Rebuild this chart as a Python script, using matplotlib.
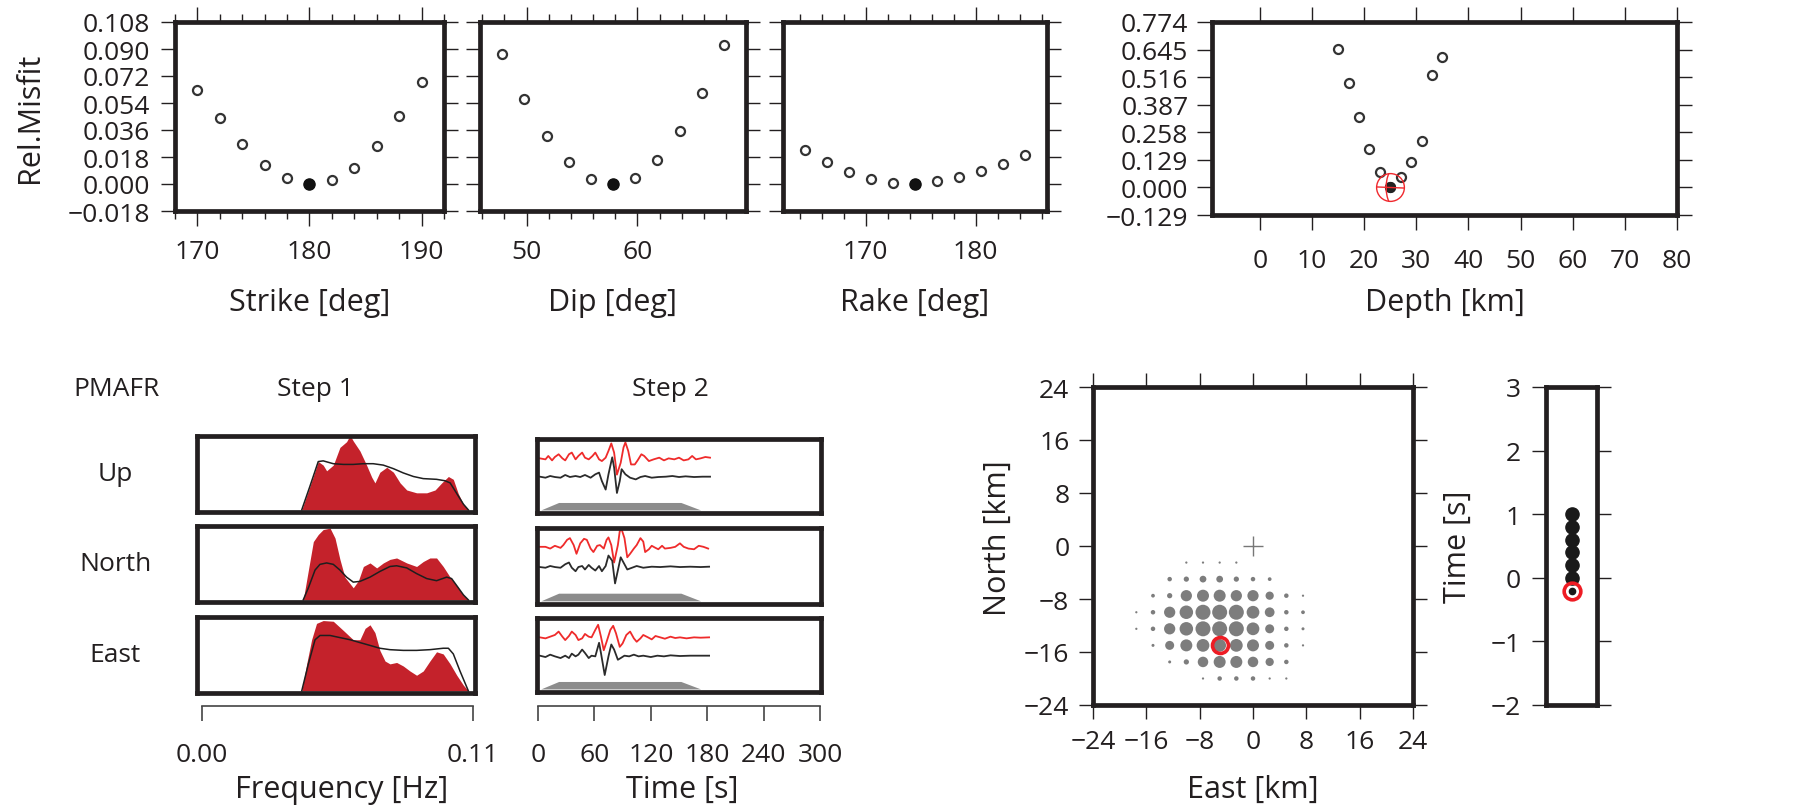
import matplotlib
matplotlib.use('Agg')
import matplotlib.pyplot as plt
import numpy as np
from matplotlib.path import Path

plt.rcParams['font.family'] = ['Open Sans', 'DejaVu Sans']
INK = '#231f20'
plt.rcParams['text.color'] = INK
plt.rcParams['xtick.color'] = INK
plt.rcParams['ytick.color'] = INK

# ---- grid search, top row ----
strike = [170, 172, 174, 176, 178, 180, 182, 184, 186, 188, 190]
strike_misfit = [0.063, 0.0438, 0.0264, 0.0129, 0.0043, 0.0, 0.0025, 0.0106, 0.0255, 0.0452, 0.068]
dip = [47.8, 49.8, 51.8, 53.8, 55.8, 57.8, 59.8, 61.8, 63.8, 65.8, 67.8]
dip_misfit = [0.0867, 0.0567, 0.0323, 0.0147, 0.0036, 0.0, 0.0043, 0.0163, 0.0355, 0.061, 0.0928]
rake = [164.5, 166.5, 168.5, 170.5, 172.5, 174.5, 176.5, 178.5, 180.5, 182.5, 184.5]
rake_misfit = [0.023, 0.0145, 0.0079, 0.0032, 0.0009, 0.0, 0.0018, 0.0045, 0.0084, 0.0135, 0.0194]
depth = [15, 17, 19, 21, 23, 25, 27, 29, 31, 33, 35]
depth_misfit = [0.649, 0.489, 0.331, 0.182, 0.070, 0.0, 0.047, 0.121, 0.217, 0.528, 0.608]

misfit_ticks = [-0.018, 0.0, 0.018, 0.036, 0.054, 0.072, 0.090, 0.108]
depth_ticks = [-0.129, 0.0, 0.129, 0.258, 0.387, 0.516, 0.645, 0.774]

# ---- step 1: amplitude spectra (red = data, black = synthetics) ----
comp_names = ['Up', 'North', 'East']
f_up = [0.0405, 0.0438, 0.0472, 0.0492, 0.0506, 0.0533, 0.0560, 0.0587, 0.0601, 0.0614, 0.0641, 0.0668,
        0.0689, 0.0702, 0.0722, 0.0750, 0.0777, 0.0804, 0.0831, 0.0871, 0.0912, 0.0946, 0.0973, 0.1000,
        0.1020, 0.1040, 0.1061, 0.1081]
amp_up = [0, 0.33, 0.68, 0.63, 0.55, 0.63, 0.88, 0.96, 1.05, 0.97, 0.83, 0.63,
          0.46, 0.38, 0.53, 0.60, 0.53, 0.38, 0.28, 0.24, 0.24, 0.28, 0.38, 0.47,
          0.43, 0.23, 0.08, 0]
fs_up = [0.0405, 0.0438, 0.0472, 0.0492, 0.0533, 0.0574, 0.0614, 0.0655, 0.0695, 0.0736, 0.0777,
         0.0817, 0.0858, 0.0898, 0.0952, 0.0986, 0.1007, 0.1034, 0.1061, 0.1081]
syn_up = [0, 0.33, 0.68, 0.69, 0.65, 0.64, 0.64, 0.65, 0.65, 0.63, 0.58,
          0.52, 0.47, 0.44, 0.43, 0.41, 0.38, 0.23, 0.08, 0]

f_north = [0.0411, 0.0432, 0.0452, 0.0472, 0.0492, 0.0520, 0.0540, 0.0560, 0.0580, 0.0614, 0.0635,
           0.0655, 0.0682, 0.0709, 0.0736, 0.0763, 0.0790, 0.0831, 0.0871, 0.0898, 0.0925, 0.0952,
           0.0979, 0.1007, 0.1034, 0.1061, 0.1081]
amp_north = [0, 0.42, 0.82, 0.92, 0.99, 1.01, 0.87, 0.57, 0.32, 0.17, 0.27,
             0.47, 0.52, 0.45, 0.52, 0.57, 0.59, 0.52, 0.47, 0.54, 0.59, 0.59,
             0.47, 0.32, 0.20, 0.07, 0]
fs_north = [0.0411, 0.0432, 0.0459, 0.0479, 0.0506, 0.0533, 0.0560, 0.0587, 0.0614, 0.0641, 0.0682,
            0.0722, 0.0763, 0.0790, 0.0831, 0.0871, 0.0912, 0.0952, 0.0993, 0.1013, 0.1034, 0.1061, 0.1081]
syn_north = [0, 0.17, 0.42, 0.50, 0.52, 0.50, 0.42, 0.32, 0.25, 0.26, 0.32,
             0.40, 0.47, 0.48, 0.45, 0.37, 0.30, 0.27, 0.32, 0.30, 0.20, 0.07, 0]

f_east = [0.0405, 0.0425, 0.0445, 0.0465, 0.0492, 0.0533, 0.0574, 0.0614, 0.0641, 0.0662, 0.0682,
          0.0702, 0.0722, 0.0743, 0.0763, 0.0790, 0.0817, 0.0844, 0.0871, 0.0898, 0.0925, 0.0952,
          0.0979, 0.1007, 0.1034, 0.1061, 0.1081]
amp_east = [0, 0.38, 0.72, 0.95, 0.99, 0.98, 0.85, 0.72, 0.72, 0.88, 0.93,
            0.82, 0.57, 0.42, 0.38, 0.40, 0.35, 0.28, 0.22, 0.28, 0.42, 0.55,
            0.52, 0.38, 0.22, 0.08, 0]
fs_east = [0.0405, 0.0432, 0.0459, 0.0479, 0.0520, 0.0560, 0.0601, 0.0641, 0.0682, 0.0722, 0.0763,
           0.0817, 0.0871, 0.0925, 0.0979, 0.1000, 0.1020, 0.1047, 0.1081]
syn_east = [0, 0.38, 0.72, 0.78, 0.78, 0.75, 0.72, 0.68, 0.64, 0.60, 0.58,
            0.57, 0.57, 0.58, 0.60, 0.60, 0.52, 0.28, 0]

# ---- step 2: waveforms (red = data, black = synthetics), amplitude in arbitrary units ----
t_red_up = [2, 8, 11, 15, 18, 22, 26, 29, 33, 36, 40, 43, 47, 50, 54, 58, 61, 65, 68, 72, 75, 78, 81, 84,
            88, 91, 93, 96, 99, 103, 106, 110, 113, 118, 123, 129, 134, 139, 145, 150, 155, 160, 164,
            168, 173, 178, 183]
red_up = [0, -3, 7, -6, 4, 12, 0, -6, 12, 17, -3, 7, 17, 2, -3, 7, 17, -3, -8, 2, 22, 44, 17, -48,
          -13, 32, 47, 22, -18, -18, -6, 12, 7, -8, -3, 2, -6, 0, -3, 2, -6, -3, 7, -3, 0, 4, 2]
t_blk_up = [2, 8, 13, 18, 24, 29, 34, 40, 45, 50, 56, 61, 65, 68, 72, 75, 79, 81, 84, 87, 89, 93, 98,
            104, 109, 114, 121, 128, 136, 143, 150, 157, 166, 175, 183]
blk_up = [0, -3, 2, -1, -3, 5, -1, 2, -1, 5, -3, 7, 12, -13, -38, 7, 57, 27, -48, -13, 22, 7, -3,
          -8, -1, 2, -3, -1, 0, 2, -1, 1, -1, 0, 0]

t_red_north = [2, 8, 13, 18, 24, 27, 31, 34, 38, 41, 45, 49, 52, 56, 59, 63, 66, 70, 73, 75, 78, 81,
               85, 87, 89, 92, 95, 98, 102, 105, 109, 112, 114, 118, 121, 125, 128, 132, 135, 141,
               146, 151, 155, 160, 166, 171, 176, 181]
red_north = [3, 3, -2, 6, 0, 8, 23, 28, 8, -17, 13, 26, 23, -2, -12, 6, 8, -2, 23, 30, 8, -42,
             8, 48, 53, 28, -27, -17, -2, 8, 28, 18, -12, -4, 6, 0, -4, 6, -2, 0,
             3, 13, 3, -2, -4, 6, 3, -2]
t_blk_north = [2, 8, 13, 18, 24, 29, 33, 36, 40, 43, 47, 50, 54, 57, 61, 65, 68, 72, 75, 79, 82, 86,
               88, 92, 95, 100, 105, 112, 121, 130, 141, 151, 162, 173, 182]
blk_north = [-1, -3, 2, -1, -3, 7, 12, -3, -13, -1, 2, -8, 5, -3, -11, 2, -13, 2, 32, 17, -48, 2,
             27, 7, -8, -3, 2, -3, 0, -1, 1, -1, 0, -1, 0]

t_red_east = [2, 8, 13, 18, 22, 26, 29, 33, 36, 40, 43, 47, 50, 54, 57, 61, 64, 67, 70, 73, 77, 80,
              83, 87, 90, 94, 98, 102, 105, 109, 112, 117, 121, 125, 130, 135, 141, 146, 151, 158,
              166, 173, 182]
red_east = [0, -3, 2, 7, 17, 2, -8, 4, 17, 7, -8, -3, 10, 2, 0, 22, 37, 2, -38, -13, 22, 34,
            12, -28, -18, 7, 17, -3, -13, -3, 7, 0, -6, 4, 0, -4, 2, -2, 0, -3, 0, -1, 0]
t_blk_east = [2, 8, 13, 18, 24, 29, 33, 36, 40, 43, 47, 50, 54, 57, 61, 65, 67, 71, 75, 78, 81, 85,
              88, 92, 97, 102, 107, 112, 120, 127, 134, 141, 151, 162, 173, 182]
blk_east = [0, -4, 3, -2, -7, 0, -7, 6, -2, 3, 18, 8, -7, 0, -2, 38, 8, -57, -2, 33, 18, -12,
            -7, 0, -2, 3, -2, 0, -4, 0, -2, 1, -1, 0, 0, 0]

taper_t = [3, 22, 152, 173]
taper_h = [0, 1, 1, 0]

# ---- centroid grid search (bottom right) ----
grid_east = [-17.5, -15, -12.5, -10, -7.5, -5, -2.5, 0, 2.5, 5, 7.5]
grid_north = [-2.5, -5, -7.5, -10, -12.5, -15, -17.5, -20]
grid_weight = [
    [0, 0, 0, 0.15, 0.15, 0.15, 0.15, 0, 0, 0, 0],
    [0, 0, 0.3, 0.35, 0.45, 0.45, 0.35, 0.3, 0.25, 0, 0],
    [0, 0.25, 0.35, 0.75, 0.8, 0.8, 0.75, 0.75, 0.55, 0.3, 0.15],
    [0.15, 0.3, 0.75, 0.9, 1.0, 1.0, 1.0, 0.85, 0.65, 0.3, 0.25],
    [0.15, 0.3, 0.75, 0.9, 1.0, 1.0, 1.0, 0.85, 0.6, 0.3, 0.2],
    [0, 0.2, 0.6, 0.8, 0.85, 0.85, 0.85, 0.8, 0.6, 0.3, 0.15],
    [0, 0, 0.2, 0.35, 0.7, 0.8, 0.8, 0.7, 0.55, 0.3, 0],
    [0, 0, 0, 0, 0.15, 0.3, 0.3, 0.3, 0.15, 0.15, 0],
]
best_east, best_north = -5, -15
time_shift = [1.0, 0.8, 0.6, 0.4, 0.2, 0.0]
best_shift = -0.2

W, H = 1795, 812
fig = plt.figure(figsize=(W / 100, H / 100), dpi=100)


def px_axes(l, t, r, b):
    return fig.add_axes([l / W, 1 - b / H, (r - l) / W, (b - t) / H])


def px_text(x, y, s, size=20, **kw):
    fig.text(x / W, 1 - y / H, s, size=size, ha='center', va='center', **kw)


def heavy_frame(ax, lw=3.4):
    for sp in ax.spines.values():
        sp.set_linewidth(lw)
        sp.set_color(INK)


def lab(v, nd):
    return f'{v:.{nd}f}'.replace('-', '\u2212')


TICK = 19
LABEL = 22

# top row misfit panels
panels = [
    (175, 444, strike, strike_misfit, (168, 192), [170, 180, 190], range(168, 193, 2), 'Strike [deg]'),
    (480, 746, dip, dip_misfit, (45.8, 69.8), [50, 60], range(46, 70, 2), 'Dip [deg]'),
    (783, 1047, rake, rake_misfit, (162.5, 186.5), [170, 180], range(164, 187, 2), 'Rake [deg]'),
]
for i, (l, r, x, y, xl, major, minor, name) in enumerate(panels):
    ax = px_axes(l, 23, r, 212)
    heavy_frame(ax)
    ax.plot(x, y, 'o', ms=6.5, mfc='white', mec='#333333', mew=1.6, ls='none')
    b = int(np.argmin(y))
    ax.plot(x[b], y[b], 'o', ms=8, color='#111111')
    ax.set_xlim(*xl)
    ax.set_ylim(-0.018, 0.108)
    ax.set_xticks(major)
    ax.set_xticks(list(minor), minor=True)
    ax.set_xticklabels([str(m) for m in major])
    ax.set_yticks(misfit_ticks)
    ax.set_yticklabels([lab(v, 3) for v in misfit_ticks] if i == 0 else [])
    ax.tick_params(which='both', direction='out', width=1, top=True, right=True, labelsize=TICK)
    ax.tick_params(which='major', length=11, pad=9)
    ax.tick_params(which='minor', length=6)
    ax.tick_params(axis='y', length=10, pad=8)
    px_text((l + r) / 2, 303, name, size=LABEL)
px_text(30, 118, 'Rel.Misfit', size=LABEL, rotation=90)

# depth panel
ax = px_axes(1212, 23, 1677, 216)
heavy_frame(ax)
ax.plot(depth, depth_misfit, 'o', ms=6.5, mfc='white', mec='#333333', mew=1.6, ls='none')
b = int(np.argmin(depth_misfit))
ax.plot(depth[b], depth_misfit[b], 'o', ms=7, color='#222222')
ball = Path([(-0.12, 1), (-0.38, 0.45), (-0.38, -0.45), (-0.12, -1), (-1, 0.04), (1, -0.04)],
            [Path.MOVETO, Path.CURVE4, Path.CURVE4, Path.CURVE4, Path.MOVETO, Path.LINETO])
ax.plot(depth[b], depth_misfit[b], marker='o', ms=20, mfc='none', mec='#f0282d', mew=1, ls='none')
ax.plot(depth[b], depth_misfit[b], marker=ball, ms=20, mfc='none', mec='#f0282d', mew=1, ls='none')
ax.set_xlim(-9.2, 80)
ax.set_ylim(-0.129, 0.774)
ax.set_xticks([0, 10, 20, 30, 40, 50, 60, 70, 80])
ax.set_yticks(depth_ticks)
ax.set_yticklabels([lab(v, 3) for v in depth_ticks])
ax.tick_params(direction='out', width=1, length=11, top=True, right=True, labelsize=TICK, pad=6)
ax.tick_params(axis='x', pad=13)
px_text(1445, 303, 'Depth [km]', size=LABEL)

# bottom left: spectra and waveforms
spec = [(f_up, amp_up, fs_up, syn_up), (f_north, amp_north, fs_north, syn_north),
        (f_east, amp_east, fs_east, syn_east)]
wave = [(t_red_up, red_up, t_blk_up, blk_up), (t_red_north, red_north, t_blk_north, blk_north),
        (t_red_east, red_east, t_blk_east, blk_east)]
spec_rows = [(437, 513), (527, 603), (618, 694)]
wave_rows = [(440, 514), (529, 605), (619, 693)]
for k in range(3):
    t0, b0 = spec_rows[k]
    ax = px_axes(197, t0, 475, b0)
    heavy_frame(ax)
    f, a, fs, s = spec[k]
    ax.fill_between(f, 0, a, color='#c4222b', lw=0)
    ax.plot(fs, s, color='#1e1e1e', lw=1.1)
    ax.set_xlim(-0.002, 0.1108)
    ax.set_ylim(-0.03, 1.04)
    ax.set_xticks([])
    ax.set_yticks([])
    px_text(115, (t0 + b0) / 2, comp_names[k], size=TICK)

    t0, b0 = wave_rows[k]
    ax = px_axes(537, t0, 821, b0)
    heavy_frame(ax)
    tr, ar, tb, ab = wave[k]
    ax.fill_between(taper_t, 0, np.array(taper_h) * 0.11, color='#8c8c8c', lw=0)
    ax.plot(tr, 0.76 + np.array(ar) / 200, color='#ef2b2b', lw=1.3, solid_joinstyle='round')
    ax.plot(tb, 0.49 + np.array(ab) / 200, color='#2b2b2b', lw=1.3, solid_joinstyle='round')
    ax.set_xlim(-1, 301)
    ax.set_ylim(-0.045, 1.045)
    ax.set_xticks([])
    ax.set_yticks([])

px_text(117, 390, 'PMAFR', size=TICK)
px_text(315, 390, 'Step 1', size=TICK)
px_text(670, 390, 'Step 2', size=TICK)


def bare_axis(l, r, y, lim, ticks, labels):
    ax = px_axes(l, y - 20, r, y)
    for name, sp in ax.spines.items():
        sp.set_visible(name == 'bottom')
    ax.spines['bottom'].set_linewidth(1.2)
    ax.spines['bottom'].set_color('#444444')
    ax.patch.set_visible(False)
    ax.set_xlim(*lim)
    ax.set_xticks(ticks)
    ax.set_xticklabels(labels)
    ax.set_yticks([])
    ax.tick_params(axis='x', direction='out', length=11, width=1.2, color='#444444',
                   labelsize=TICK, pad=15)
    return ax


bare_axis(202, 473, 707, (0, 0.11), [0, 0.11], ['0.00', '0.11'])
bare_axis(538, 820, 707, (0, 300), [0, 60, 120, 180, 240, 300], ['0', '60', '120', '180', '240', '300'])
px_text(342, 790, 'Frequency [Hz]', size=LABEL)
px_text(682, 790, 'Time [s]', size=LABEL)

# centroid location map
ax = px_axes(1093, 388, 1413, 706)
heavy_frame(ax)
ex, ny = np.meshgrid(grid_east, grid_north)
wt = np.array(grid_weight)
keep = wt > 0
ax.scatter(ex[keep], ny[keep], s=(wt[keep] * 15 * 0.72) ** 2, color='#7d7d7d', lw=0)
ax.plot(0, 0, '+', ms=14, mew=1, color='#777777')
ax.plot(best_east, best_north, 'o', ms=11.5, mfc='none', mec='#ee1c24', mew=2.6)
ticks = [-24, -16, -8, 0, 8, 16, 24]
ax.set_xlim(-24, 24)
ax.set_ylim(-24, 24)
ax.set_xticks(ticks)
ax.set_yticks(ticks)
ax.set_xticklabels([lab(v, 0) for v in ticks])
ax.set_yticklabels([lab(v, 0) for v in ticks])
ax.tick_params(direction='out', width=1, length=10, top=True, right=True, labelsize=TICK, pad=7)
px_text(1253, 790, 'East [km]', size=LABEL)
px_text(998, 538, 'North [km]', size=LABEL, rotation=90)

# centroid time panel
ax = px_axes(1546, 388, 1597, 706)
heavy_frame(ax)
ax.plot([0] * len(time_shift), time_shift, 'o', ms=9.5, color='#1a1a1a', ls='none')
ax.plot(0, best_shift, 'o', ms=12, mfc='none', mec='#ee1c24', mew=2.6)
ax.plot(0, best_shift, 'o', ms=4.5, color='#1a1a1a')
ax.set_xlim(-1, 1)
ax.set_ylim(-2, 3)
ax.set_xticks([])
ax.set_yticks([-2, -1, 0, 1, 2, 3])
ax.set_yticklabels([lab(v, 0) for v in [-2, -1, 0, 1, 2, 3]])
ax.tick_params(direction='out', width=1, length=10, right=True, labelsize=TICK, pad=8)
px_text(1458, 547, 'Time [s]', size=LABEL, rotation=90)

fig.savefig('out.png', dpi=100)
